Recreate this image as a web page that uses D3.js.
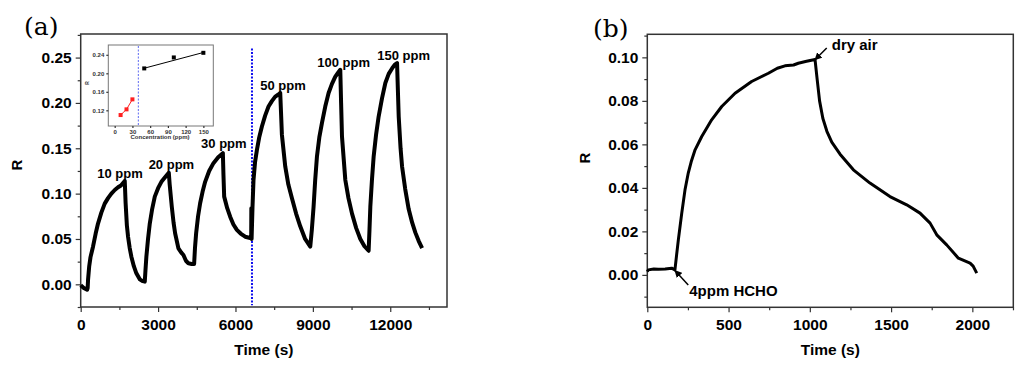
<!DOCTYPE html>
<html>
<head>
<meta charset="utf-8">
<script src="https://cdn.jsdelivr.net/npm/d3@7"></script>
<style>
  body { margin: 0; background: #fff; }
  text { font-family: "Liberation Sans", Arial, sans-serif; }
</style>
</head>
<body>
<div id="chart"></div>
<script>
// ---- panel (a): response vs time, several concentrations
var seriesA = [
  [0,-0.001],[120,-0.004],[250,-0.006],[270,-0.004],[285,0.005],[330,0.020],[380,0.030],[477,0.0415],
  [580,0.056],[671,0.067],[800,0.079],[931,0.089],[1060,0.095],[1188,0.100],[1320,0.104],[1448,0.107],
  [1560,0.109],[1650,0.112],[1708,0.114],[1740,0.090],[1790,0.065],[1836,0.0525],[1900,0.040],[1964,0.0305],
  [2060,0.020],[2158,0.0121],[2290,0.0055],[2400,0.0035],[2484,0.003],
  [2510,0.015],[2546,0.0305],[2610,0.050],[2678,0.067],[2770,0.083],[2872,0.0967],[3000,0.106],[3128,0.113],
  [3270,0.118],[3415,0.123],
  [3450,0.110],[3531,0.0857],[3600,0.068],[3660,0.0563],[3788,0.0397],[3900,0.035],[3982,0.0323],[4080,0.026],
  [4176,0.0232],[4300,0.0225],[4397,0.0224],
  [4430,0.040],[4475,0.0563],[4550,0.075],[4630,0.0894],[4724,0.102],[4824,0.113],[4980,0.125],[5146,0.1336],
  [5330,0.140],[5511,0.1446],
  [5535,0.120],[5562,0.0967],[5680,0.084],[5794,0.0746],[5920,0.066],[6054,0.060],[6200,0.056],[6376,0.0525],
  [6609,0.0508],[6615,0.084],[6625,0.050],
  [6660,0.085],[6699,0.115],[6760,0.135],[6830,0.148],[6920,0.162],[7024,0.174],[7150,0.186],[7281,0.196],
  [7410,0.202],[7541,0.207],[7650,0.209],[7735,0.211],
  [7765,0.190],[7800,0.165],[7929,0.130],[8050,0.110],[8189,0.095],[8350,0.078],[8511,0.064],[8700,0.050],[8899,0.0415],
  [8960,0.060],[9028,0.0857],[9090,0.115],[9159,0.141],[9250,0.162],[9353,0.178],[9480,0.196],[9610,0.211],
  [9740,0.221],[9870,0.229],[9970,0.233],[10063,0.2365],
  [10095,0.200],[10129,0.163],[10258,0.115],[10380,0.095],[10518,0.078],[10680,0.062],[10840,0.050],[11000,0.042],[11162,0.037],
  [11195,0.060],[11228,0.0857],[11290,0.115],[11357,0.141],[11450,0.165],[11550,0.185],[11680,0.205],[11810,0.222],
  [11940,0.232],[12070,0.238],[12170,0.242],[12264,0.244],
  [12295,0.215],[12328,0.185],[12400,0.150],[12458,0.130],[12580,0.105],[12714,0.083],[12850,0.068],[12974,0.057],
  [13100,0.048],[13234,0.040]
];
var labelsA = [
  {t:1525, r:0.1173, text:"10 ppm"},
  {t:3516, r:0.127, text:"20 ppm"},
  {t:5550, r:0.150, text:"30 ppm"},
  {t:7840, r:0.2145, text:"50 ppm"},
  {t:10191, r:0.240, text:"100 ppm"},
  {t:12520, r:0.2476, text:"150 ppm"}
];
var splitTimeA = 6640;
var xTicksA = [0,3000,6000,9000,12000];
var xMinorA = [1500,4500,7500,10500,13500];
var yTicksA = [0,0.05,0.10,0.15,0.20,0.25];
var yMinorA = [-0.025,0.025,0.075,0.125,0.175,0.225,0.275];

// inset: response vs concentration
var insetLow = [[10,0.1098],[20,0.1221],[30,0.1437]];
var insetHigh = [[50,0.2106],[100,0.2343],[150,0.2443]];
var insetFit = [[50,0.211],[150,0.245]];
var insetSplit = 40;
var xTicksI = [0,30,60,90,120,150];
var yTicksI = [0.12,0.16,0.20,0.24];

// ---- panel (b): single pulse 4 ppm HCHO
var seriesB = [
  [0,0.0015],[6,0.0023],[40,0.0027],[68,0.0026],[110,0.0027],[150,0.0031],[170,0.0023],[180,0.009],[191,0.0161],
  [212,0.0284],[232,0.0391],[252,0.0468],[270,0.052],[294,0.0575],[335,0.0636],[396,0.0713],[458,0.0774],
  [540,0.0835],[642,0.0889],[745,0.0927],[800,0.0950],[847,0.0961],[900,0.0965],[929,0.0973],[980,0.0982],
  [1032,0.0990],[1045,0.090],[1060,0.080],[1080,0.072],[1105,0.066],[1135,0.061],[1186,0.0555],[1268,0.0483],
  [1370,0.0422],[1493,0.036],[1596,0.0322],[1678,0.0284],[1740,0.0238],[1781,0.0184],[1842,0.0138],
  [1914,0.0077],[1986,0.0054],[2005,0.004],[2027,0.0008]
];
var arrowsB = [
  {from:[1104,0.1043], to:[1032,0.0989], at:[1135,0.1032], text:"dry air"},
  {from:[252,-0.0046], to:[170,0.0020], at:[258,-0.0097], text:"4ppm HCHO"}
];
var xTicksB = [0,500,1000,1500,2000];
var xMinorB = [250,750,1250,1750,2250];
var yTicksB = [0,0.02,0.04,0.06,0.08,0.10];
var yMinorB = [-0.01,0.01,0.03,0.05,0.07,0.09,0.11];

var svg = d3.select("#chart").append("svg")
    .attr("width", 1024)
    .attr("height", 369);

svg.append("defs").append("marker")
    .attr("id", "arrow")
    .attr("viewBox", "0 0 10 10")
    .attr("refX", 9).attr("refY", 5)
    .attr("markerWidth", 5).attr("markerHeight", 5)
    .attr("orient", "auto")
  .append("path")
    .attr("d", "M0,0 L10,5 L0,10 z")
    .attr("fill", "#000");

// draws the frame, outward major/minor ticks and labels
function drawAxes(x, y, xMaj, xMin, yMaj, yMin, yFmt) {
  var x0 = x.range()[0], x1 = x.range()[1];
  var yb = y.range()[0], yt = y.range()[1];

  var gx = svg.append("g").attr("transform", "translate(0," + yb + ")")
      .call(d3.axisBottom(x).tickValues(xMaj).tickSize(5).tickSizeOuter(0).tickPadding(7).tickFormat(d3.format("d")));
  svg.append("g").attr("transform", "translate(0," + yb + ")")
      .call(d3.axisBottom(x).tickValues(xMin).tickSize(3).tickSizeOuter(0).tickFormat(""));
  var gy = svg.append("g").attr("transform", "translate(" + x0 + ",0)")
      .call(d3.axisLeft(y).tickValues(yMaj).tickSize(5).tickSizeOuter(0).tickPadding(4).tickFormat(yFmt));
  svg.append("g").attr("transform", "translate(" + x0 + ",0)")
      .call(d3.axisLeft(y).tickValues(yMin).tickSize(3).tickSizeOuter(0).tickFormat(""));

  svg.selectAll(".domain").remove();
  [gx, gy].forEach(function(g) {
    g.selectAll("text")
      .style("font-family", '"Liberation Sans", Arial, sans-serif')
      .style("font-weight", "bold")
      .style("font-size", "15.5px")
      .attr("fill", "#000");
  });
  svg.selectAll(".tick line").attr("stroke", "#333").attr("stroke-width", 1.2);

  svg.append("rect")
      .attr("x", x0).attr("y", yt)
      .attr("width", x1 - x0).attr("height", yb - yt)
      .attr("fill", "none")
      .attr("stroke", "#333")
      .attr("stroke-width", 1.5);
}

// ================= panel (a)
var xA = d3.scaleLinear().domain([0, 14200]).range([80.7, 447]);
var yA = d3.scaleLinear().domain([-0.025, 0.276]).range([307, 34]);

drawAxes(xA, yA, xTicksA, xMinorA, yTicksA, yMinorA, d3.format(".2f"));

svg.append("line")
    .attr("x1", xA(splitTimeA)).attr("x2", xA(splitTimeA))
    .attr("y1", yA(0.26)).attr("y2", yA(-0.023))
    .attr("stroke", "#1010ee")
    .attr("stroke-width", 2)
    .attr("stroke-dasharray", "2,1.5");

var lineA = d3.line()
    .x(function(d) { return xA(d[0]); })
    .y(function(d) { return yA(d[1]); });

svg.append("path")
    .datum(seriesA)
    .attr("fill", "none")
    .attr("stroke", "#000")
    .attr("stroke-width", 4)
    .attr("stroke-linejoin", "round")
    .attr("d", lineA);

svg.selectAll(".ppm")
    .data(labelsA)
  .enter().append("text")
    .attr("class", "ppm")
    .attr("x", function(d) { return xA(d.t); })
    .attr("y", function(d) { return yA(d.r); })
    .attr("text-anchor", "middle")
    .style("font-weight", "bold")
    .style("font-size", "13px")
    .text(function(d) { return d.text; });

svg.append("text")
    .attr("x", 24).attr("y", 35)
    .style("font-family", '"DejaVu Serif", serif')
    .style("font-size", "25px")
    .text("(a)");

svg.append("text")
    .attr("x", (80.7 + 447) / 2).attr("y", 355)
    .attr("text-anchor", "middle")
    .style("font-weight", "bold")
    .style("font-size", "15.5px")
    .text("Time (s)");

svg.append("text")
    .attr("transform", "translate(22,165) rotate(-90)")
    .attr("text-anchor", "middle")
    .style("font-weight", "bold")
    .style("font-size", "15px")
    .text("R");

// ---- inset
var xI = d3.scaleLinear().domain([-10.8, 166.8]).range([108.3, 213.3]);
var yI = d3.scaleLinear().domain([0.0861, 0.2612]).range([126, 45]);

svg.append("rect")
    .attr("x", 108.3).attr("y", 45)
    .attr("width", 105).attr("height", 81)
    .attr("fill", "#fff")
    .attr("stroke", "#777")
    .attr("stroke-width", 1);

var gxi = svg.append("g").attr("transform", "translate(0,126)")
    .call(d3.axisBottom(xI).tickValues(xTicksI).tickSize(2).tickSizeOuter(0).tickPadding(1.5));
var gyi = svg.append("g").attr("transform", "translate(108.3,0)")
    .call(d3.axisLeft(yI).tickValues(yTicksI).tickSize(2).tickSizeOuter(0).tickPadding(2).tickFormat(d3.format(".2f")));
gxi.select(".domain").remove();
gyi.select(".domain").remove();
[gxi, gyi].forEach(function(g) {
  g.selectAll("line").attr("stroke", "#555");
  g.selectAll("text")
    .style("font-family", '"Liberation Sans", Arial, sans-serif')
    .style("font-weight", "bold")
    .style("font-size", "6px")
    .attr("fill", "#333");
});

svg.append("line")
    .attr("x1", xI(insetSplit)).attr("x2", xI(insetSplit))
    .attr("y1", 46).attr("y2", 125)
    .attr("stroke", "#3344ee")
    .attr("stroke-width", 0.8)
    .attr("stroke-dasharray", "2,1.5");

var lineI = d3.line()
    .x(function(d) { return xI(d[0]); })
    .y(function(d) { return yI(d[1]); });

svg.append("path").datum(insetLow)
    .attr("fill", "none").attr("stroke", "#ff2020").attr("stroke-width", 1)
    .attr("d", lineI);
svg.append("path").datum(insetFit)
    .attr("fill", "none").attr("stroke", "#000").attr("stroke-width", 1)
    .attr("d", lineI);

svg.selectAll(".ptLow").data(insetLow).enter().append("rect")
    .attr("x", function(d) { return xI(d[0]) - 2; })
    .attr("y", function(d) { return yI(d[1]) - 2; })
    .attr("width", 4).attr("height", 4)
    .attr("fill", "#ff2020");
svg.selectAll(".ptHigh").data(insetHigh).enter().append("rect")
    .attr("x", function(d) { return xI(d[0]) - 2; })
    .attr("y", function(d) { return yI(d[1]) - 2; })
    .attr("width", 4).attr("height", 4)
    .attr("fill", "#000");

svg.append("text")
    .attr("x", 160).attr("y", 139)
    .attr("text-anchor", "middle")
    .style("font-weight", "bold")
    .style("font-size", "6px")
    .attr("fill", "#333")
    .text("Concentration (ppm)");

svg.append("text")
    .attr("transform", "translate(89,83) rotate(-90)")
    .attr("text-anchor", "middle")
    .style("font-weight", "bold")
    .style("font-size", "5px")
    .attr("fill", "#333")
    .text("R");

// ================= panel (b)
var xB = d3.scaleLinear().domain([0, 2252]).range([647.3, 1013.3]);
var yB = d3.scaleLinear().domain([-0.0149, 0.1106]).range([307.3, 34.3]);

drawAxes(xB, yB, xTicksB, xMinorB, yTicksB, yMinorB, d3.format(".2f"));

var lineB = d3.line()
    .x(function(d) { return xB(d[0]); })
    .y(function(d) { return yB(d[1]); });

svg.append("path")
    .datum(seriesB)
    .attr("fill", "none")
    .attr("stroke", "#000")
    .attr("stroke-width", 3)
    .attr("stroke-linejoin", "round")
    .attr("d", lineB);

arrowsB.forEach(function(a) {
  svg.append("line")
      .attr("x1", xB(a.from[0])).attr("y1", yB(a.from[1]))
      .attr("x2", xB(a.to[0])).attr("y2", yB(a.to[1]))
      .attr("stroke", "#000")
      .attr("stroke-width", 1.5)
      .attr("marker-end", "url(#arrow)");
  svg.append("text")
      .attr("x", xB(a.at[0])).attr("y", yB(a.at[1]))
      .style("font-weight", "bold")
      .style("font-size", "15px")
      .text(a.text);
});

svg.append("text")
    .attr("x", 593).attr("y", 37)
    .style("font-family", '"DejaVu Serif", serif')
    .style("font-size", "25px")
    .text("(b)");

svg.append("text")
    .attr("x", (647.3 + 1013.3) / 2).attr("y", 355)
    .attr("text-anchor", "middle")
    .style("font-weight", "bold")
    .style("font-size", "15.5px")
    .text("Time (s)");

svg.append("text")
    .attr("transform", "translate(590,158) rotate(-90)")
    .attr("text-anchor", "middle")
    .style("font-weight", "bold")
    .style("font-size", "15px")
    .text("R");
</script>
</body>
</html>
